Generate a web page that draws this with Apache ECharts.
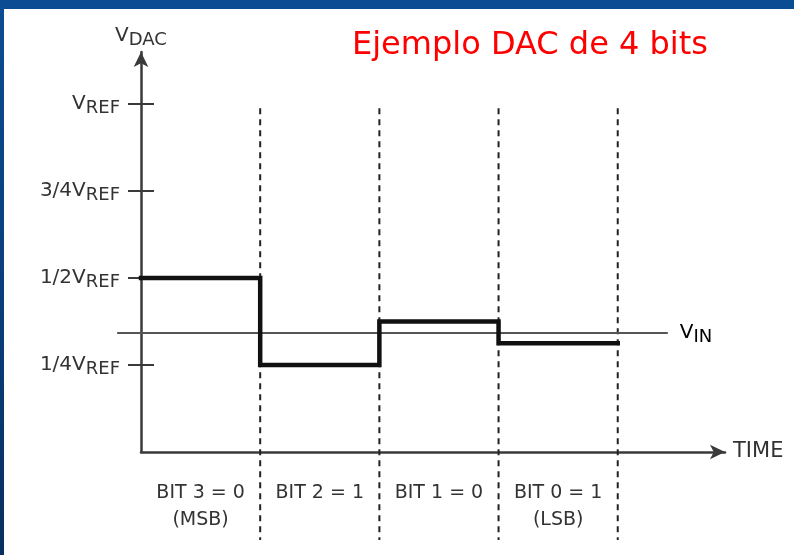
<!DOCTYPE html>
<html>
<head>
<meta charset="utf-8">
<script src="https://cdn.jsdelivr.net/npm/echarts@6/dist/echarts.min.js"></script>
<style>
  html, body { margin: 0; padding: 0; width: 794px; height: 555px; overflow: hidden; }
  body { background: linear-gradient(180deg, #0b4d92 0%, #0a3f7c 50%, #082f60 100%); position: relative; }
  #panel { position: absolute; left: 4px; top: 9px; right: 0; bottom: 0; background: #ffffff; }
  #chart { position: absolute; left: 0; top: 0; width: 794px; height: 555px; }
</style>
</head>
<body>
<div id="panel"></div>
<div id="chart"></div>
<script>
// Successive-approximation steps of a 4-bit DAC (fractions of VREF)
const bitBoundaries = [1, 2, 3, 4];
const dacLevels = [0.5, 0.25, 0.375, 0.3125];
const vinLevel = 0.342;
const vinSpan = [-0.2, 4.42];
const dividerSpan = [0.988, -0.253];

// Axis tick values and labels
const yTickValues = [0.25, 0.5, 0.75, 1];
const yTickPrefixes = ['1/4', '1/2', '3/4', ''];
const bitLabelValues = [0.5, 1.5, 2.5, 3.5];
const bitLabels = ['BIT 3 = 0\n(MSB)', 'BIT 2 = 1', 'BIT 1 = 0', 'BIT 0 = 1\n(LSB)'];

const FONT = 'DejaVu Sans';
const INK = '#333333';
const AXIS = '#3a3a3a';

const stepData = dacLevels.map((v, i) => [i, v]);
stepData.push([dacLevels.length, dacLevels[dacLevels.length - 1]]);

const dividerSeries = bitBoundaries.map(b => ({
  type: 'line',
  clip: false,
  silent: true,
  symbol: 'none',
  z: 1,
  data: [[b, dividerSpan[0]], [b, dividerSpan[1]]],
  lineStyle: { color: '#222', width: 2, type: [6, 5] }
}));

const subRich = {
  v: { fontFamily: FONT, fontSize: 20, color: INK },
  s: { fontFamily: FONT, fontSize: 18, color: INK, padding: [9, 0, 0, 0] }
};

const chart = echarts.init(document.getElementById('chart'), null, { renderer: 'canvas' });
chart.setOption({
  backgroundColor: 'transparent',
  animation: false,
  title: {
    text: 'Ejemplo DAC de 4 bits',
    left: 347,
    top: 25,
    textStyle: { color: '#ff0000', fontFamily: FONT, fontSize: 32, fontWeight: 'normal' }
  },
  grid: { left: 141, right: 69, top: 52, bottom: 103 },
  xAxis: {
    type: 'value',
    min: 0,
    max: 4.9,
    splitLine: { show: false },
    axisTick: { show: false },
    axisLine: {
      lineStyle: { color: AXIS, width: 2.5 },
      symbol: ['none', 'arrow'],
      symbolSize: [11, 15]
    },
    axisLabel: {
      customValues: bitLabelValues,
      formatter: v => bitLabels[bitLabelValues.indexOf(v)] || '',
      fontFamily: FONT,
      fontSize: 19,
      color: INK,
      lineHeight: 27,
      margin: 28
    },
    name: 'TIME',
    nameLocation: 'end',
    nameGap: 8,
    nameTextStyle: { fontFamily: FONT, fontSize: 21, color: INK, verticalAlign: 'middle', padding: [4, 0, 0, 0] }
  },
  yAxis: [
    {
      type: 'value',
      min: 0,
      max: 1.15,
      splitLine: { show: false },
      axisLine: {
        lineStyle: { color: AXIS, width: 2.5 },
        symbol: ['none', 'arrow'],
        symbolSize: [11, 15]
      },
      axisTick: {
        customValues: yTickValues,
        length: 13,
        lineStyle: { color: AXIS, width: 2 }
      },
      axisLabel: {
        customValues: yTickValues,
        formatter: v => '{v|' + yTickPrefixes[yTickValues.indexOf(v)] + 'V}{s|REF}',
        rich: subRich,
        margin: 21
      },
      name: '{v|V}{s|DAC}',
      nameLocation: 'end',
      nameGap: 3,
      nameTextStyle: { rich: subRich, align: 'center' }
    },
    {
      type: 'value',
      position: 'left',
      min: 0,
      max: 1.15,
      splitLine: { show: false },
      axisLine: { show: false },
      axisLabel: { show: false },
      axisTick: {
        customValues: yTickValues,
        inside: true,
        length: 13,
        lineStyle: { color: AXIS, width: 2 }
      }
    }
  ],
  series: [
    ...dividerSeries,
    {
      // Input-level reference line, reaching past the vertical axis
      type: 'custom',
      silent: true,
      z: 2,
      data: [[vinSpan[0], vinSpan[1], vinLevel]],
      renderItem: (params, api) => {
        const p0 = api.coord([api.value(0), api.value(2)]);
        const p1 = api.coord([api.value(1), api.value(2)]);
        return {
          type: 'group',
          children: [
            {
              type: 'line',
              shape: { x1: p0[0], y1: p0[1], x2: p1[0], y2: p1[1] },
              style: { stroke: '#555', lineWidth: 2 }
            },
            {
              type: 'text',
              x: p1[0] + 12,
              y: p1[1],
              style: {
                text: '{v|V}{s|IN}',
                rich: subRich,
                verticalAlign: 'middle',
                align: 'left'
              }
            }
          ]
        };
      }
    },
    {
      type: 'line',
      step: 'end',
      silent: true,
      symbol: 'none',
      z: 3,
      data: stepData,
      lineStyle: { color: '#111', width: 4.5, cap: 'square', join: 'miter' }
    }
  ]
});
</script>
</body>
</html>
